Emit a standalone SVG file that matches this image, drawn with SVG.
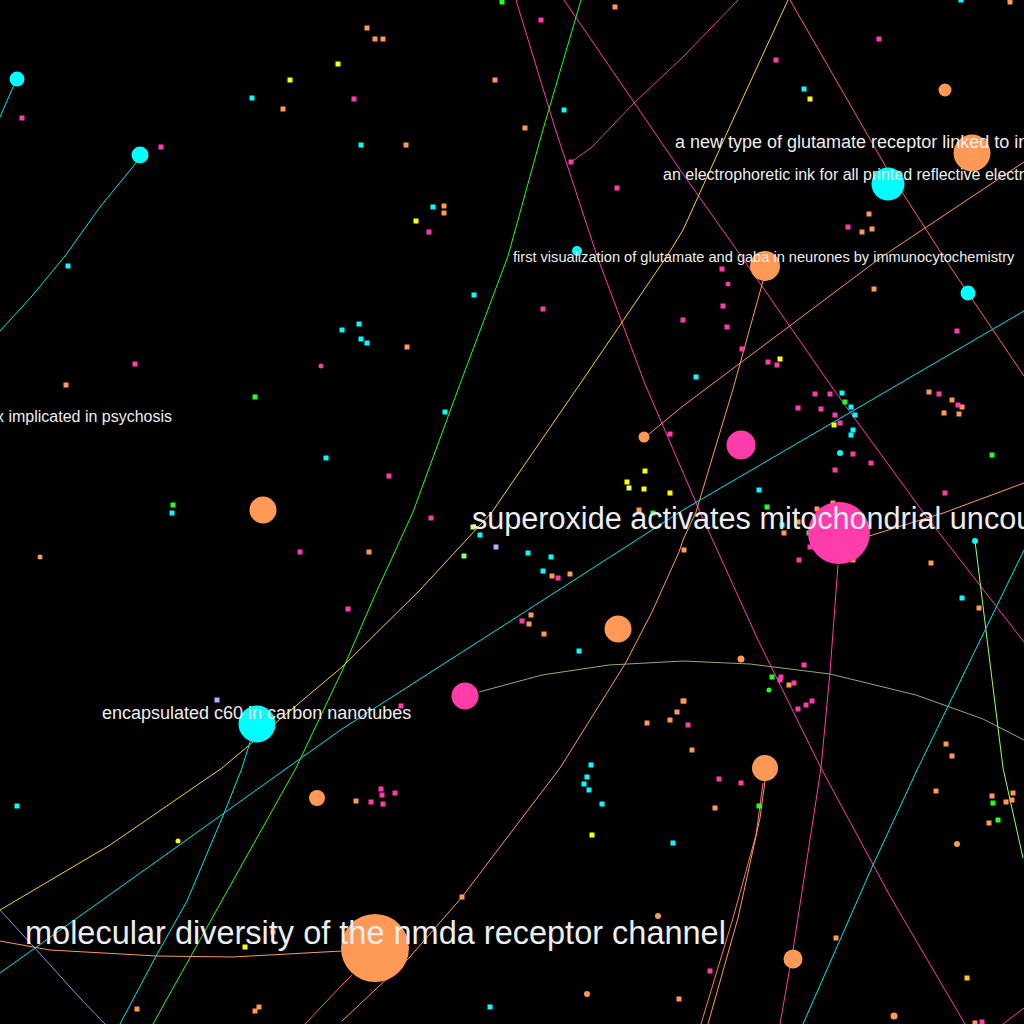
<svg xmlns="http://www.w3.org/2000/svg" xmlns:xlink="http://www.w3.org/1999/xlink" width="1024" height="1024" viewBox="0 0 1024 1024">
<style>
.o{fill:#ff9955}.c{fill:#00ffff}.p{fill:#ff3caa}.y{fill:#ffff00}.g{fill:#22ff22}.yl{fill:#ddff66}.gd{fill:#ffcc22}.lg{fill:#88ff77}.lv{fill:#bbaaff}
.e{fill:none;stroke-width:1}
.t{fill:#eeeeee;font-family:"Liberation Sans",Arial,sans-serif}
</style>
<defs><rect id="s" x="-2.5" y="-2.5" width="5" height="5"/></defs>
<rect width="1024" height="1024" fill="#000"/>
<g id="connectors">
<polyline class="e" stroke="#00e5ee" points="17,79 13,87 0,117"/>
<polyline class="e" stroke="#00e5ee" points="140,155 136,163 100,207 65,256 32,296 0,331"/>
<polyline class="e" stroke="#22ff22" points="581,0 542,133 508,256 460,384 413,512 375,595 342,671 296,768 225,895 153,1024"/>
<polyline class="e" stroke="#ff3caa" points="516,0 555,128 597,256 645,384 700,512 758,640 821,768 890,896 965,1024"/>
<polyline class="e" stroke="#ff3caa" points="564,0 683,174 741,256 834,390 923,512 1024,642"/>
<polyline class="e" stroke="#d64aa0" points="571,162 592,147 634,103 683,57 738,0"/>
<polyline class="e" stroke="#ffcc33" points="788,0 736,113 683,230 667,256 580,384 492,512 420,590 342,667 222,768 110,845 0,910"/>
<polyline class="e" stroke="#ff5c7a" points="790,0 886,167 943,256 1024,376"/>
<polyline class="e" stroke="#ff9955" points="1024,162 883,256 683,406 649,434"/>
<polyline class="e" stroke="#ff9955" points="763,281 733,389 696,512 683,540 679,552 652,612 625,664 595,712 560,768 462,897 409,958 342,1021"/>
<polyline class="e" stroke="#00e5ee" points="1024,311 683,510 509,622 342,729 287,768 178,846 0,973"/>
<polyline class="e" stroke="#ff9955" points="866,537 946,512 1024,483"/>
<polyline class="e" stroke="#99aa66" points="479,692 542,675 609,665 683,661 750,664 830,674 916,695 983,719 1024,740"/>
<polyline class="e" stroke="#99ff66" points="975,541 989,655 1003,768 1023,858"/>
<polyline class="e" stroke="#00e5ee" points="1024,550 918,768 873,865 803,1024"/>
<polyline class="e" stroke="#ff3caa" points="838,565 830,672 821,768 793,950 780,1024"/>
<polyline class="e" stroke="#ff7766" points="763,783 756,835 733,918 701,1024"/>
<polyline class="e" stroke="#ff9955" points="765,781 760,818 738,918 708,1024"/>
<polyline class="e" stroke="#00e5ee" points="257,724 250,742 242,768 225,811 187,901 155,958 120,1024"/>
<polyline class="e" stroke="#8899ee" points="0,910 33,946 80,998 105,1024"/>
<polyline class="e" stroke="#ff9955" points="0,941 50,950 157,956 233,957 342,951"/>
<polyline class="e" stroke="#ff5c8a" points="352,975 342,985 305,1024"/>
<polyline class="e" stroke="#ff3caa" points="1024,1008 1003,1024"/>
</g>
<g id="dots">
<g class="o">
<use href="#s" x="283" y="109"/><use href="#s" x="367" y="28"/><use href="#s" x="375" y="39"/><use href="#s" x="383" y="39"/><use href="#s" x="495" y="80"/><use href="#s" x="615" y="7"/><use href="#s" x="525" y="128"/><use href="#s" x="406" y="145"/><use href="#s" x="444" y="206"/><use href="#s" x="444" y="213"/><use href="#s" x="1010" y="2"/><use href="#s" x="869" y="214"/><use href="#s" x="862" y="232"/><use href="#s" x="872" y="229"/><use href="#s" x="66" y="385"/><use href="#s" x="407" y="347"/><use href="#s" x="639" y="510"/><use href="#s" x="874" y="289"/><use href="#s" x="929" y="392"/><use href="#s" x="952" y="400"/><use href="#s" x="962" y="407"/><use href="#s" x="944" y="413"/><use href="#s" x="959" y="414"/><use href="#s" x="833" y="503"/><use href="#s" x="817" y="509"/><use href="#s" x="369" y="552"/><use href="#s" x="552" y="576"/><use href="#s" x="570" y="574"/><use href="#s" x="531" y="615"/><use href="#s" x="529" y="624"/><use href="#s" x="544" y="634"/><use href="#s" x="683" y="701"/><use href="#s" x="677" y="712"/><use href="#s" x="670" y="720"/><use href="#s" x="647" y="723"/><use href="#s" x="798" y="522"/><use href="#s" x="784" y="533"/><use href="#s" x="817" y="532"/><use href="#s" x="855" y="545"/><use href="#s" x="853" y="560"/><use href="#s" x="684" y="550"/><use href="#s" x="931" y="563"/><use href="#s" x="979" y="608"/><use href="#s" x="789" y="685"/><use href="#s" x="684" y="701"/><use href="#s" x="692" y="750"/><use href="#s" x="946" y="744"/><use href="#s" x="952" y="756"/><use href="#s" x="356" y="801"/><use href="#s" x="462" y="897"/><use href="#s" x="679" y="999"/><use href="#s" x="137" y="1009"/><use href="#s" x="259" y="1007"/><use href="#s" x="255" y="1011"/><use href="#s" x="273" y="932"/><use href="#s" x="715" y="808"/><use href="#s" x="936" y="791"/><use href="#s" x="992" y="796"/><use href="#s" x="1013" y="793"/><use href="#s" x="1012" y="800"/><use href="#s" x="1006" y="802"/><use href="#s" x="989" y="823"/><use href="#s" x="836" y="938"/><use href="#s" x="975" y="1023"/>
<circle cx="741" cy="659" r="3.5"/><circle cx="40" cy="557" r="2.5"/><circle cx="658" cy="916" r="3"/><circle cx="587" cy="994" r="3"/><circle cx="957" cy="844" r="3"/><circle cx="894" cy="1016" r="3.5"/>
</g>
<g class="p">
<use href="#s" x="22" y="118"/><use href="#s" x="161" y="147"/><use href="#s" x="354" y="99"/><use href="#s" x="541" y="20"/><use href="#s" x="571" y="162"/><use href="#s" x="617" y="188"/><use href="#s" x="429" y="232"/><use href="#s" x="879" y="39"/><use href="#s" x="776" y="60"/><use href="#s" x="848" y="227"/><use href="#s" x="135" y="364"/><use href="#s" x="543" y="309"/><use href="#s" x="389" y="476"/><use href="#s" x="670" y="434"/><use href="#s" x="683" y="320"/><use href="#s" x="722" y="269"/><use href="#s" x="723" y="306"/><use href="#s" x="727" y="327"/><use href="#s" x="742" y="349"/><use href="#s" x="768" y="362"/><use href="#s" x="777" y="365"/><use href="#s" x="957" y="331"/><use href="#s" x="815" y="394"/><use href="#s" x="830" y="394"/><use href="#s" x="798" y="408"/><use href="#s" x="821" y="409"/><use href="#s" x="835" y="415"/><use href="#s" x="840" y="423"/><use href="#s" x="853" y="454"/><use href="#s" x="871" y="463"/><use href="#s" x="835" y="470"/><use href="#s" x="939" y="394"/><use href="#s" x="958" y="405"/><use href="#s" x="945" y="493"/><use href="#s" x="431" y="518"/><use href="#s" x="300" y="552"/><use href="#s" x="558" y="578"/><use href="#s" x="348" y="609"/><use href="#s" x="522" y="621"/><use href="#s" x="401" y="706"/><use href="#s" x="810" y="547"/><use href="#s" x="799" y="560"/><use href="#s" x="804" y="665"/><use href="#s" x="781" y="677"/><use href="#s" x="780" y="680"/><use href="#s" x="794" y="683"/><use href="#s" x="812" y="701"/><use href="#s" x="806" y="705"/><use href="#s" x="798" y="709"/><use href="#s" x="688" y="725"/><use href="#s" x="381" y="789"/><use href="#s" x="382" y="795"/><use href="#s" x="395" y="793"/><use href="#s" x="371" y="802"/><use href="#s" x="383" y="804"/><use href="#s" x="719" y="779"/><use href="#s" x="741" y="783"/><use href="#s" x="710" y="971"/><use href="#s" x="982" y="1022"/>
<circle cx="321" cy="366" r="2.5"/><circle cx="728" cy="284" r="2.5"/>
</g>
<g class="c">
<use href="#s" x="252" y="98"/><use href="#s" x="564" y="110"/><use href="#s" x="361" y="145"/><use href="#s" x="433" y="207"/><use href="#s" x="961" y="0"/><use href="#s" x="804" y="89"/><use href="#s" x="68" y="266"/><use href="#s" x="342" y="330"/><use href="#s" x="359" y="324"/><use href="#s" x="361" y="339"/><use href="#s" x="367" y="343"/><use href="#s" x="474" y="295"/><use href="#s" x="445" y="412"/><use href="#s" x="326" y="458"/><use href="#s" x="172" y="513"/><use href="#s" x="696" y="377"/><use href="#s" x="842" y="393"/><use href="#s" x="851" y="407"/><use href="#s" x="855" y="415"/><use href="#s" x="853" y="430"/><use href="#s" x="851" y="435"/><use href="#s" x="759" y="490"/><use href="#s" x="480" y="535"/><use href="#s" x="528" y="553"/><use href="#s" x="551" y="557"/><use href="#s" x="543" y="571"/><use href="#s" x="579" y="651"/><use href="#s" x="591" y="765"/><use href="#s" x="782" y="525"/><use href="#s" x="962" y="598"/><use href="#s" x="17" y="806"/><use href="#s" x="587" y="777"/><use href="#s" x="584" y="784"/><use href="#s" x="589" y="790"/><use href="#s" x="602" y="804"/><use href="#s" x="673" y="843"/><use href="#s" x="490" y="1007"/>
<circle cx="975" cy="541" r="3"/><circle cx="840" cy="453" r="3"/>
</g>
<g class="y">
<use href="#s" x="290" y="80"/><use href="#s" x="338" y="64"/><use href="#s" x="416" y="221"/><use href="#s" x="810" y="99"/><use href="#s" x="780" y="359"/><use href="#s" x="645" y="471"/><use href="#s" x="627" y="482"/><use href="#s" x="644" y="489"/><use href="#s" x="670" y="493"/><use href="#s" x="834" y="425"/><use href="#s" x="245" y="947"/><use href="#s" x="592" y="835"/>
<circle cx="178" cy="841" r="2.5"/>
</g>
<g class="yl"><use href="#s" x="629" y="488"/><use href="#s" x="473" y="527"/></g>
<g class="gd"><use href="#s" x="967" y="978"/></g>
<g class="g">
<use href="#s" x="502" y="2"/><use href="#s" x="255" y="397"/><use href="#s" x="173" y="505"/><use href="#s" x="653" y="513"/><use href="#s" x="845" y="402"/><use href="#s" x="992" y="455"/><use href="#s" x="767" y="507"/><use href="#s" x="809" y="533"/><use href="#s" x="772" y="677"/><use href="#s" x="759" y="806"/><use href="#s" x="993" y="803"/><use href="#s" x="998" y="820"/>
<circle cx="769" cy="690" r="2.5"/>
</g>
<g class="lg"><use href="#s" x="464" y="556"/></g>
<g class="lv"><use href="#s" x="496" y="547"/><use href="#s" x="217" y="700"/></g>
</g>
<g id="n-cyan-1"><circle class="c" cx="17" cy="79" r="7.5"/></g>
<g id="n-cyan-2"><circle class="c" cx="140" cy="155" r="8.5"/></g>
<g id="n-cyan-3"><circle class="c" cx="577" cy="251" r="5"/></g>
<g id="n-glutamate-gaba"><circle class="o" cx="765" cy="266" r="15"/></g>
<g id="n-orange-1"><circle class="o" cx="945" cy="90" r="6.5"/></g>
<g id="n-glutamate-receptor"><circle class="o" cx="972" cy="153" r="18.5"/></g>
<g id="n-electrophoretic"><circle class="c" cx="888" cy="184" r="16.5"/></g>
<g id="n-cyan-4"><circle class="c" cx="968" cy="293" r="7.5"/></g>
<g id="n-pink-1"><circle class="p" cx="741" cy="445" r="14.5"/></g>
<g id="n-orange-2"><circle class="o" cx="644" cy="437" r="5.5"/></g>
<g id="n-orange-3"><circle class="o" cx="263" cy="510" r="13.5"/></g>
<g id="n-superoxide"><circle class="p" cx="839" cy="533" r="31"/></g>
<g id="n-orange-4"><circle class="o" cx="618" cy="629" r="13.5"/></g>
<g id="n-pink-2"><circle class="p" cx="465" cy="696" r="13.5"/></g>
<g id="n-c60"><circle class="c" cx="257" cy="724" r="18.5"/></g>
<g id="n-orange-5"><circle class="o" cx="317" cy="798" r="8"/></g>
<g id="n-orange-6"><circle class="o" cx="765" cy="768" r="13"/></g>
<g id="n-nmda"><circle class="o" cx="375" cy="948" r="34"/></g>
<g id="n-orange-7"><circle class="o" cx="793" cy="959" r="9.5"/></g>
<g id="labels">
<text class="t" x="675" y="148" font-size="18">a new type of glutamate receptor linked to in</text>
<text class="t" x="663" y="180" font-size="16">an electrophoretic ink for all printed reflective electro</text>
<text class="t" x="513" y="262" font-size="14.6">first visualization of glutamate and gaba in neurones by immunocytochemistry</text>
<text class="t" x="-4" y="422" font-size="16">x implicated in psychosis</text>
<text class="t" x="472" y="529" font-size="30.6">superoxide activates mitochondrial uncou</text>
<text class="t" x="102" y="719" font-size="18">encapsulated c60 in carbon nanotubes</text>
<text class="t" x="25" y="944" font-size="32.5">molecular diversity of the nmda receptor channel</text>
</g>
</svg>
